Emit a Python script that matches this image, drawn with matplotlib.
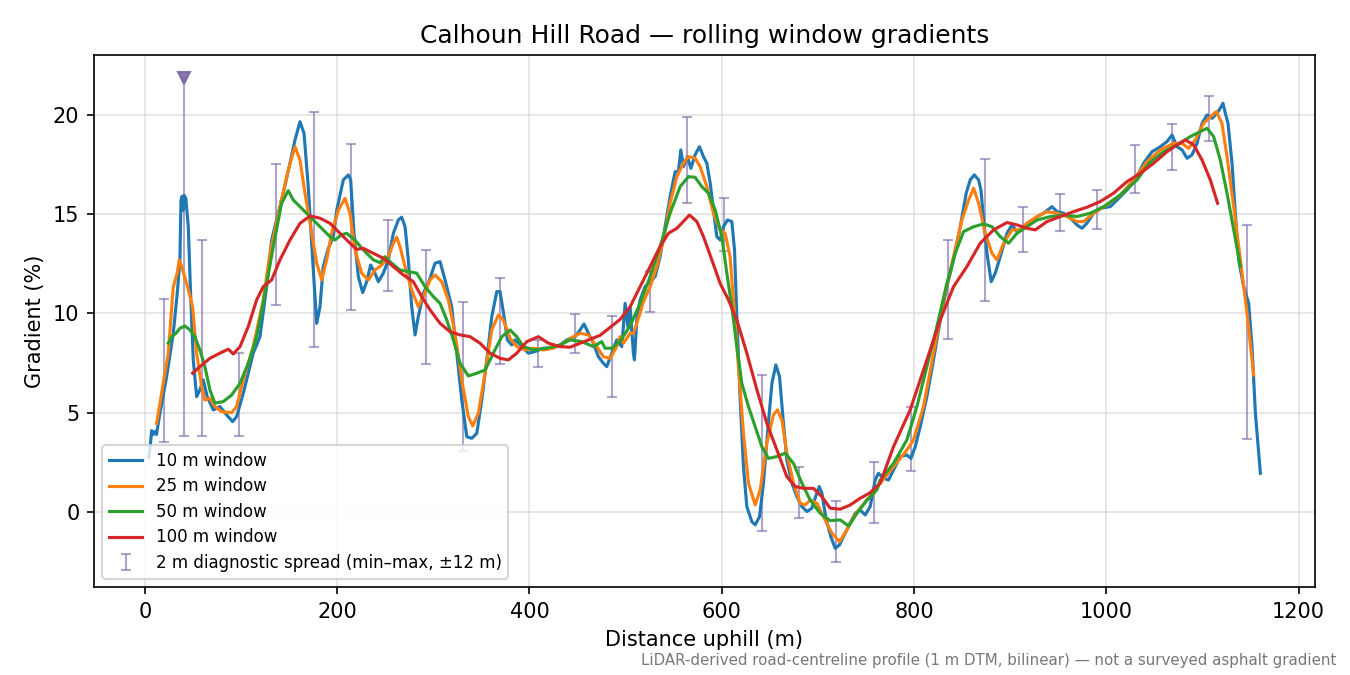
import numpy as np
import matplotlib
matplotlib.use("Agg")
import matplotlib.pyplot as plt

# Rolling-window gradient profiles: (distance m, gradient %)
win_10 = [(4, 2.75), (5.5, 3.3), (7, 4.1), (8.5, 3.9), (10.4, 4.05), (12, 3.9), (15.6, 4.97), (22.6, 6.82),
          (29.5, 9.0), (33.6, 11.0), (36.4, 12.7), (37.5, 15.7), (38.6, 15.9), (39.6, 15.2), (40.8, 15.95),
          (42.5, 15.8), (45.1, 14.4), (47.5, 11.0), (50.3, 7.66), (53.8, 5.81), (57.2, 6.15), (60.7, 6.65),
          (64.8, 5.81), (71.1, 5.14), (78, 5.31), (85, 4.89), (91.2, 4.55), (95.4, 4.8), (102.3, 5.98),
          (112.7, 8.0), (119.7, 8.83), (126.6, 11.35), (131.8, 13.7), (137, 14.71), (143.9, 16.06),
          (150.9, 17.57), (156.1, 18.74), (161.3, 19.66), (165.5, 19.08), (169.9, 16.39), (174.5, 12.7),
          (178.7, 9.5), (182.1, 10.34), (185.5, 12.36), (190.8, 13.28), (196, 13.87), (199.5, 15.2),
          (206.4, 16.73), (211.6, 16.98), (214, 16.73), (217.5, 14.04), (222, 11.86), (226.5, 11.05),
          (230.7, 11.6), (234.8, 12.44), (239.3, 12.03), (242.8, 11.6), (248, 12.03), (253.2, 12.7),
          (258.4, 14.04), (263.6, 14.71), (267.1, 14.85), (270.6, 14.37), (274, 12.7), (277.5, 10.34),
          (281, 8.92), (284.4, 9.84), (289.6, 11.02), (294.8, 11.52), (301.8, 12.53), (307, 12.61),
          (312.2, 11.69), (319.1, 10.34), (324.4, 8.0), (329.6, 5.64), (334.8, 3.79), (340, 3.71),
          (345.2, 3.96), (350.4, 5.64), (355.6, 7.66), (360.8, 9.84), (366, 11.1), (369.4, 11.1),
          (373.6, 9.84), (377, 8.67), (381.6, 8.41), (385, 8.67), (392, 8.33), (398.9, 8.0), (405.8, 8.08),
          (414.5, 8.25), (423.2, 8.25), (431.9, 8.41), (438.8, 8.67), (447.5, 8.83), (452.7, 9.17),
          (456.8, 9.47), (461.3, 9.0), (466.5, 8.5), (471.7, 7.82), (476.9, 7.49), (480.4, 7.32),
          (485.6, 8.0), (490.8, 8.67), (496, 8.33), (497.7, 9.34), (499.5, 10.51), (502.3, 9.34),
          (504.7, 10.34), (508.1, 8.0), (509.2, 7.66), (511.6, 9.67), (515.1, 10.68), (520.3, 11.35),
          (525.5, 11.6), (530.7, 11.86), (535.9, 12.86), (541.1, 14.37), (546.3, 15.89), (551.5, 17.14),
          (555, 17.14), (557.4, 18.24), (560.2, 17.4), (564.3, 17.9), (567.9, 17.31), (572.3, 17.99),
          (576.8, 18.4), (581, 17.9), (584.5, 17.57), (588, 16.56), (591.4, 15.21), (594.9, 13.87),
          (598.3, 13.7), (601.8, 14.37), (606, 14.71), (610.5, 14.63), (613.3, 13.2), (615.7, 9.84),
          (619.2, 5.64), (622.6, 2.28), (626.1, 0.27), (631.3, -0.49), (634.8, -0.65), (639.3, -0.24),
          (643.4, 1.45), (647.6, 3.96), (652.2, 6.48), (656.3, 7.41), (660.1, 6.82), (663.6, 4.8),
          (667.7, 2.62), (673, 1.45), (678.2, 0.77), (683.4, 0.27), (688.6, 0.02), (693.8, 0.19),
          (698.3, 0.86), (701.4, 1.28), (704.2, 0.94), (708.7, -0.4), (713.5, -1.24), (718, -1.83),
          (722.5, -1.66), (726.6, -1.24), (733.6, -0.57), (738.8, -0.07), (744, 0.1), (749.2, -0.15),
          (754.4, 0.27), (759.6, 1.61), (763, 1.95), (768.3, 1.7), (773.5, 1.61), (778.7, 2.12),
          (785.7, 2.79), (792.6, 2.87), (796.8, 2.7), (801.3, 3.29), (806.5, 4.3), (813.4, 5.81),
          (820.3, 7.66), (827.3, 9.67), (834.2, 11.35), (841.1, 12.7), (848.1, 14.37), (854.3, 16.06),
          (858.5, 16.73), (862.7, 16.98), (867.2, 16.73), (869.6, 16.22), (872.4, 14.71), (875.9, 13.03),
          (880.3, 11.6), (884.5, 12.03), (889.7, 12.86), (896.7, 14.04), (901.9, 14.46), (907.1, 14.12),
          (914, 14.37), (921, 14.63), (928, 14.88), (934.8, 15.05), (943.5, 15.38), (948.7, 15.13),
          (955.6, 15.05), (962.6, 14.8), (969.5, 14.46), (974.7, 14.29), (979.9, 14.55), (986.8, 15.05),
          (993.8, 15.3), (1004.2, 15.38), (1011.2, 15.72), (1021.5, 16.22), (1030.2, 16.73),
          (1038.8, 17.57), (1047.6, 18.15), (1056.2, 18.4), (1063.2, 18.66), (1068.4, 18.99),
          (1073.6, 18.4), (1078.8, 18.24), (1084, 17.82), (1089.2, 17.99), (1094.4, 18.57),
          (1099.6, 19.58), (1104.8, 20.0), (1110, 19.83), (1115.2, 20.09), (1118.6, 20.34),
          (1121.4, 20.59), (1123.8, 20.09), (1126.6, 19.58), (1130.8, 17.57), (1134.2, 15.05),
          (1137.7, 12.7), (1142.9, 11.35), (1148.1, 10.51), (1151.6, 8.33), (1155.1, 4.97), (1160.3, 1.95)]

win_25 = [(12.2, 4.47), (17.4, 5.98), (24.3, 8.0), (29.5, 11.35), (33.6, 12.03), (35.7, 12.7), (38.2, 12.36),
          (43.4, 11.52), (49.6, 10.34), (53.8, 8.0), (59, 6.31), (62.4, 5.64), (67.6, 5.73), (72.8, 5.31),
          (79.8, 5.05), (90.2, 5.0), (95.4, 5.31), (102.3, 6.65), (112.7, 8.33), (123.1, 10.68),
          (130.1, 13.03), (140.5, 15.38), (149.1, 17.23), (156.1, 18.4), (161.3, 17.73), (166.5, 16.06),
          (173.5, 14.04), (178.7, 12.53), (183.9, 11.69), (189.1, 12.7), (194, 14.0), (201.2, 15.21),
          (208.1, 15.8), (213.3, 15.05), (218.5, 13.2), (225.5, 12.03), (232.4, 11.69), (239.3, 12.19),
          (246.3, 12.44), (253.2, 12.86), (258.4, 13.54), (261.9, 13.84), (265.3, 13.37), (270.6, 12.36),
          (277.5, 11.18), (284.4, 10.34), (289.6, 10.85), (296.6, 11.69), (301.8, 11.94), (308.7, 11.6),
          (315.6, 10.68), (322.6, 9.0), (329.6, 6.65), (336.4, 4.8), (341, 4.33), (346.8, 4.97),
          (353.8, 6.99), (360.8, 9.17), (367.7, 9.92), (372.9, 9.67), (379.8, 8.75), (386.8, 8.33),
          (395.4, 8.16), (404.1, 8.25), (414.5, 8.16), (424.9, 8.25), (435.3, 8.5), (445.7, 8.83),
          (452.7, 9.0), (461.3, 8.92), (470, 8.33), (476.9, 7.82), (483.9, 7.74), (490.8, 8.33),
          (494.3, 8.83), (497.7, 8.5), (504.7, 9.0), (508.1, 9.0), (515.1, 10.01), (517.9, 10.51),
          (525.5, 11.35), (532.4, 12.36), (539.3, 13.7), (546.3, 15.55), (553.3, 16.89), (560.2, 17.57),
          (565.4, 17.9), (572.3, 17.82), (577.5, 17.4), (584.5, 16.39), (591.4, 15.05), (598.3, 14.21),
          (603.5, 14.04), (608.7, 12.86), (612.2, 10.68), (617.4, 7.32), (622.6, 3.96), (627.8, 1.45),
          (634.8, 0.35), (640, 1.11), (646.9, 3.46), (653.8, 4.89), (658, 5.14), (662.6, 4.63),
          (667.7, 2.96), (674.6, 1.45), (681.6, 0.44), (686.8, 0.35), (692, 0.6), (699, 0.44),
          (705.8, -0.24), (714.6, -1.07), (722.5, -1.5), (730.2, -0.91), (737.1, -0.24), (744, 0.19),
          (751, 0.6), (757.9, 0.94), (764.8, 1.45), (778.7, 2.28), (792.6, 3.12), (799.5, 3.63),
          (809.9, 5.31), (820.3, 8.0), (830.7, 10.68), (841.1, 12.86), (849.9, 14.71), (856.8, 15.72),
          (862, 16.31), (867.2, 15.55), (874.1, 14.04), (881.1, 13.03), (886.3, 12.7), (893.2, 13.54),
          (901.9, 14.21), (910.6, 14.21), (917.5, 14.55), (928, 14.88), (938.3, 15.13), (948.7, 15.05),
          (959.1, 14.88), (969.5, 14.63), (976.4, 14.63), (986.8, 15.05), (1000.7, 15.47),
          (1014.6, 15.97), (1028.5, 16.73), (1042.4, 17.65), (1056.2, 18.24), (1070.1, 18.57),
          (1078.8, 18.57), (1085.7, 18.32), (1092.6, 18.74), (1101.3, 19.58), (1108.2, 19.91),
          (1114.5, 20.17), (1120.3, 19.58), (1125.6, 17.9), (1132.5, 15.38), (1139.5, 12.7),
          (1146.4, 10.01), (1153.3, 6.9)]

win_50 = [(24.3, 8.5), (27.8, 8.83), (32.3, 9.0), (36.4, 9.25), (41.6, 9.37), (46.8, 9.17), (52, 8.83),
          (57.2, 8.16), (62.4, 7.32), (67.6, 6.15), (72.8, 5.48), (81.5, 5.56), (90.2, 5.89), (98.9, 6.48),
          (107.5, 7.49), (116.2, 8.83), (124.9, 11.02), (133.5, 13.37), (142.2, 15.55), (149.1, 16.19),
          (154.3, 15.72), (161.3, 15.38), (171.7, 14.88), (182.1, 14.37), (192.5, 13.87), (197.7, 13.7),
          (204, 13.95), (209.8, 14.04), (218.5, 13.7), (227.2, 13.2), (237.6, 12.7), (244.5, 12.56),
          (249.7, 12.86), (256.7, 12.53), (265.3, 12.19), (274, 12.11), (282.7, 12.03), (291.4, 11.35),
          (300, 10.85), (307, 10.51), (314, 9.67), (320.8, 8.67), (327.8, 7.49), (336.4, 6.85),
          (345.2, 6.99), (353.8, 7.15), (362.4, 8.0), (371.2, 8.83), (379.8, 9.17), (386.8, 8.83),
          (393.7, 8.33), (404.1, 8.16), (418, 8.25), (431.9, 8.41), (442.3, 8.67), (454.4, 8.58),
          (466.5, 8.33), (475.2, 8.58), (478.6, 8.25), (485.6, 8.25), (494.3, 8.6), (504.7, 9.38),
          (515.1, 10.51), (525.5, 11.86), (535.9, 13.37), (546.3, 15.05), (556.7, 16.39), (565.4, 16.89),
          (572.3, 16.86), (579.3, 16.39), (586.2, 16.06), (593.2, 15.21), (600.1, 13.87), (605.3, 12.03),
          (610.5, 10.34), (615.7, 8.33), (620.9, 6.48), (627.8, 5.31), (634.8, 4.3), (641.7, 3.29),
          (648.6, 2.7), (657.4, 2.79), (666, 2.96), (674.6, 2.45), (683.4, 1.45), (692, 0.6),
          (702.4, -0.07), (712.8, -0.44), (723.2, -0.4), (732, -0.71), (740.6, -0.07), (751, 0.6),
          (761.4, 1.11), (764.8, 1.61), (778.7, 2.45), (792.6, 3.63), (803, 5.31), (813.4, 7.32),
          (823.8, 9.34), (834.2, 11.52), (842.9, 13.03), (851.5, 14.12), (862, 14.37), (872.4, 14.51),
          (881.1, 14.37), (889.7, 13.87), (898.4, 13.54), (907.1, 14.04), (917.5, 14.37), (928, 14.71),
          (941.9, 14.88), (955.6, 14.96), (969.5, 14.88), (983.4, 15.05), (997.2, 15.38), (1014.6, 15.97),
          (1032, 16.73), (1044.4, 17.57), (1059.7, 18.15), (1073.6, 18.49), (1087.4, 18.91),
          (1097.8, 19.16), (1104.8, 19.33), (1111.7, 18.91), (1118.6, 17.73), (1125.6, 16.06),
          (1132.5, 14.21), (1139.5, 12.36)]

win_100 = [(49.6, 6.99), (57.2, 7.32), (67.6, 7.74), (78, 8.0), (86.7, 8.2), (91.9, 7.96), (98.9, 8.33),
           (107.5, 9.34), (116.2, 10.68), (123.1, 11.35), (131.8, 11.69), (140.5, 12.7), (150.9, 13.7),
           (161.3, 14.54), (171.7, 14.91), (182.1, 14.8), (192.5, 14.54), (202.9, 14.04), (213.3, 13.54),
           (220.3, 13.23), (227.2, 13.28), (237.6, 13.03), (248, 12.78), (258.4, 12.36), (268.8, 11.94),
           (279.2, 11.6), (287.9, 10.85), (296.6, 10.18), (307, 9.5), (317.4, 9.08), (327.8, 8.92),
           (338.2, 8.83), (348.6, 8.5), (359, 8.0), (369.4, 7.74), (378.1, 7.66), (386.8, 8.0),
           (397.2, 8.58), (409.3, 8.83), (419.7, 8.5), (431.9, 8.33), (442.3, 8.3), (452.7, 8.5),
           (463.1, 8.7), (473.5, 8.9), (483.9, 9.3), (494.3, 9.7), (504.7, 10.34), (515.1, 11.35),
           (525.5, 12.36), (535.9, 13.37), (544.6, 14.04), (553.3, 14.29), (556.7, 14.46), (566.4, 14.96),
           (574.1, 14.63), (581, 13.87), (589.7, 12.7), (598.3, 11.52), (607, 10.68), (615.7, 9.67),
           (626.1, 8.0), (636.6, 6.15), (646.9, 4.47), (657.4, 3.12), (667.7, 1.78), (676.4, 1.28),
           (685, 1.19), (695.4, 1.19), (704.2, 0.77), (712.8, 0.19), (723.2, 0.14), (733.6, 0.35),
           (744, 0.69), (754.4, 0.97), (764.8, 1.45), (778.7, 3.29), (796, 5.14), (813.4, 7.66),
           (827.3, 9.67), (841.1, 11.35), (855, 12.36), (868.9, 13.54), (882.7, 14.21), (896.7, 14.58),
           (907.1, 14.46), (917.5, 14.29), (926.1, 14.21), (938.3, 14.63), (952.2, 14.88), (966, 15.13),
           (979.9, 15.35), (993.8, 15.64), (1007.6, 16.06), (1021.5, 16.64), (1035.4, 17.06),
           (1049.3, 17.57), (1063.2, 18.15), (1073.6, 18.49), (1082.3, 18.74), (1091, 18.49),
           (1099.6, 17.73), (1108.2, 16.73), (1115.8, 15.55)]

# 2 m diagnostic spread (min / max within +-12 m)
spread_d = [20, 59, 98, 136, 176, 214, 253, 292, 331, 369, 409, 447, 486, 525, 564,
            602, 642, 680, 719, 758, 797, 835, 874, 913, 952, 990, 1030, 1068, 1107, 1146]
spread_lo = [3.54, 3.84, 3.84, 10.43, 8.30, 10.18, 11.13, 7.46, 3.07, 7.46, 7.32, 8.03, 5.78, 10.09, 15.58,
             13.15, -0.94, -0.32, -2.54, -0.57, 2.08, 8.70, 10.65, 13.12, 14.17, 14.27, 16.09, 17.25, 18.71, 3.66]
spread_hi = [10.73, 13.70, 8.03, 17.53, 20.17, 18.52, 14.71, 13.20, 10.58, 11.80, 8.66, 9.99, 9.89, 12.16, 19.88,
             15.83, 6.90, 2.28, 0.57, 2.54, 5.31, 13.70, 17.78, 15.37, 16.02, 16.24, 18.50, 19.56, 20.97, 14.46]

# spike whose spread runs off the top of the plot
spike_d = 41
spike_lo = 3.84
spike_hi = 21.85

series = [(win_10, "10 m window", "tab:blue"),
          (win_25, "25 m window", "tab:orange"),
          (win_50, "50 m window", "tab:green"),
          (win_100, "100 m window", "tab:red")]

fig = plt.figure(figsize=(9, 4.5), dpi=150)
ax = fig.add_axes([0.0696, 0.1304, 0.9044, 0.7881])

for data, label, color in series:
    arr = np.array(data)
    ax.plot(arr[:, 0], arr[:, 1], color=color, lw=1.5, label=label, zorder=3,
            solid_joinstyle="round")

bar_color = "#7b68a6"
lo = np.array(spread_lo)
hi = np.array(spread_hi)
mid = (lo + hi) / 2
ax.errorbar(spread_d, mid, yerr=[mid - lo, hi - mid], fmt="none", ecolor=bar_color,
            elinewidth=1.0, capsize=2.5, alpha=0.6, zorder=2,
            label="2 m diagnostic spread (min\u2013max, \u00b112 m)")
# off-scale spike: bottom cap only, triangle at the top
ax.vlines(spike_d, spike_lo, spike_hi, color=bar_color, lw=1.0, alpha=0.6, zorder=2)
ax.plot([spike_d], [spike_lo], marker="_", color=bar_color, ms=5, mew=1.0, alpha=0.6, zorder=2)
ax.plot([spike_d], [spike_hi], marker="v", color=bar_color, ms=6, alpha=0.9, zorder=4)

ax.set_xlim(-53, 1217)
ax.set_ylim(-3.78, 23.02)
ax.grid(True, color="#d0d0d0", alpha=0.6, lw=0.8)
ax.set_axisbelow(True)

ax.set_title("Calhoun Hill Road \u2014 rolling window gradients", fontsize=12)
ax.set_xlabel("Distance uphill (m)")
ax.set_ylabel("Gradient (%)")
ax.legend(loc="lower left", fontsize=8, labelspacing=0.45)

fig.text(0.99, 0.01, "LiDAR-derived road-centreline profile (1 m DTM, bilinear) \u2014 not a surveyed asphalt gradient",
         ha="right", va="bottom", fontsize=7.2, color="#777777")

fig.savefig("out.png", dpi=150)
